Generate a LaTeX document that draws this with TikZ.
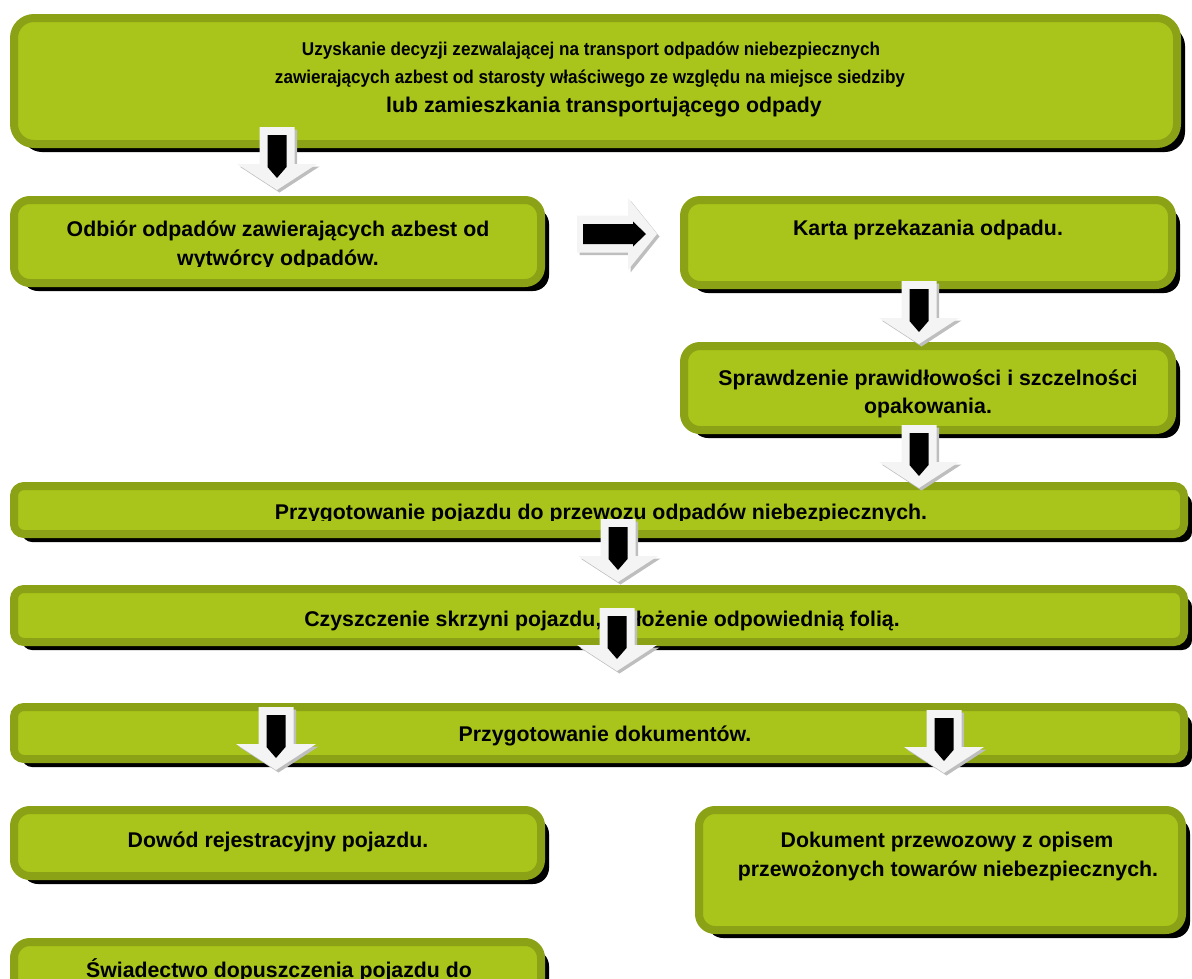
\documentclass[tikz,border=0pt]{standalone}
\usepackage{fontspec}
\usepackage{graphicx}
\setmainfont{Liberation Sans}
\usetikzlibrary{shadows}
\definecolor{gfill}{RGB}{169,196,26}
\definecolor{gedge}{RGB}{139,162,22}
\definecolor{awhite}{RGB}{244,244,244}
\definecolor{ashadow}{RGB}{190,190,190}
\tikzset{
  gbox/.style={draw=gedge, fill=gfill, line width=8pt, inner sep=0pt, rounded corners=#1,
    drop shadow={shadow xshift=8pt, shadow yshift=-8pt, opacity=1, fill=black}},
  gbox/.default=16pt,
  txt/.style={inner sep=0pt, font=\bfseries\fontsize{21.3}{25}\selectfont, anchor=base},
  smalltxt/.style={inner sep=0pt, font=\bfseries\fontsize{18.5}{22}\selectfont, anchor=base},
  arrwhite/.style={fill=awhite},
  arrshade/.style={fill=ashadow},
  arrblack/.style={fill=black},
}
\newcommand{\arrdown}[2]{%
  \begin{scope}[shift={(#1,#2)}]
    \fill[arrshade] (-15,2.5) -- (20,2.5) -- (20,39.5) -- (42.5,39.5) -- (2.5,65.5) -- (-37.5,39.5) -- (-15,39.5) -- cycle;
    \fill[arrwhite] (-17.5,0) -- (17.5,0) -- (17.5,37) -- (40,37) -- (0,63) -- (-40,37) -- (-17.5,37) -- cycle;
    \fill[arrblack] (-9.5,8) -- (9.5,8) -- (9.5,40) -- (0,51) -- (-9.5,40) -- cycle;
  \end{scope}}
\newcommand{\arrright}[2]{%
  \begin{scope}[shift={(#1,#2)}]
    \fill[arrshade] (2.5,-16) -- (53.5,-16) -- (53.5,-33.5) -- (82.5,2.5) -- (53.5,38.5) -- (53.5,21) -- (2.5,21) -- cycle;
    \fill[arrwhite] (0,-18.5) -- (51,-18.5) -- (51,-36) -- (80,0) -- (51,36) -- (51,18.5) -- (0,18.5) -- cycle;
    \fill[arrblack] (6,-10) -- (56,-10) -- (56,-12.5) -- (69,0) -- (56,12.5) -- (56,10) -- (6,10) -- cycle;
  \end{scope}}
\begin{document}
\begin{tikzpicture}[x=1pt,y=-1pt]
\useasboundingbox (0,0) rectangle (1192,978);
\clip (0,0) rectangle (1192,978);
% boxes
\node[gbox=20pt, minimum width=1163pt, minimum height=126pt] (top) at (595.5,81) {};
\node[gbox, minimum width=527pt, minimum height=83pt] (odbior) at (277.5,241.5) {};
\node[gbox, minimum width=488pt, minimum height=85pt] (karta) at (928,242.5) {};
\node[gbox, minimum width=488pt, minimum height=84pt] (spr) at (928,388) {};
\node[gbox=10pt, minimum width=1170pt, minimum height=48pt] (band1) at (599,510) {};
\node[gbox=10pt, minimum width=1170pt, minimum height=53pt] (band2) at (599,615.5) {};
\node[gbox=10pt, minimum width=1170pt, minimum height=52pt] (band3) at (599,733) {};
\node[gbox, minimum width=527pt, minimum height=66pt] (dowod) at (277.5,843) {};
\node[gbox, minimum width=483pt, minimum height=120pt] (dok) at (940.5,870) {};
\node[gbox, minimum width=527pt, minimum height=94pt] (swiad) at (277.5,989) {};
% texts
\node[smalltxt] (t1) at (591,55) {\resizebox{578pt}{\height}{Uzyskanie decyzji zezwalającej na transport odpadów niebezpiecznych}};
\node[smalltxt] (t2) at (590,83) {\resizebox{630pt}{\height}{zawierających azbest od starosty właściwego ze względu na miejsce siedziby}};
\node[txt] (t3) at (604,112) {lub zamieszkania transportującego odpady};
\begin{scope}
  \clip (0,0) rectangle (1192,266);
  \node[txt] (o1) at (278,236) {Odbiór odpadów zawierających azbest od};
  \node[txt] (o2) at (278,265) {wytwórcy odpadów.};
\end{scope}
\node[txt] (k1) at (928,235) {Karta przekazania odpadu.};
\node[txt] (s1) at (928,385) {Sprawdzenie prawidłowości i szczelności};
\node[txt] (s2) at (928,413) {opakowania.};
\begin{scope}
  \clip (0,300) rectangle (1192,520.5);
  \node[txt] (b1) at (601,519) {Przygotowanie pojazdu do przewozu odpadów niebezpiecznych.};
\end{scope}
\node[txt] (b2) at (602,626) {Czyszczenie skrzyni pojazdu, wyłożenie odpowiednią folią.};
\node[txt] (b3) at (605,741) {Przygotowanie dokumentów.};
\node[txt] (d1) at (278,847) {Dowód rejestracyjny pojazdu.};
\node[txt] (p1) at (947,847) {Dokument przewozowy z opisem};
\node[txt] (p2) at (948,876) {przewożonych towarów niebezpiecznych.};
\node[txt] (w1) at (279,977) {Świadectwo dopuszczenia pojazdu do};
% block arrows
\arrdown{277}{127}
\arrright{577}{234}
\arrdown{919}{281}
\arrdown{919}{425}
\arrdown{618}{519}
\arrdown{617}{608}
\arrdown{276}{707}
\arrdown{944}{710}
\end{tikzpicture}
\end{document}
